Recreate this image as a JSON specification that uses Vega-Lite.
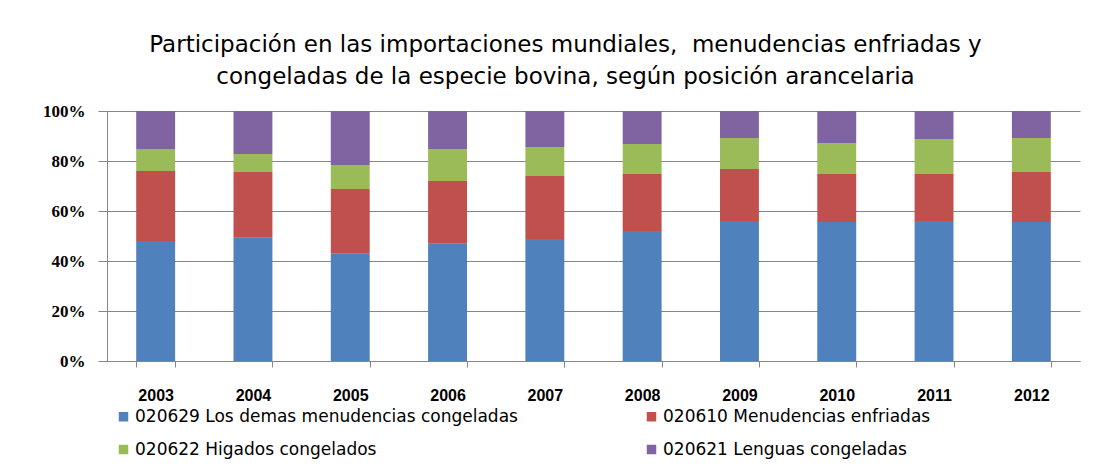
{
  "$schema": "https://vega.github.io/schema/vega-lite/v6.json",
  "width": 973,
  "height": 250,
  "autosize": "none",
  "padding": {"left": 107, "top": 111, "right": 14, "bottom": 110},
  "background": "white",
  "title": {
    "text": ["Participación en las importaciones mundiales,\u00a0 menudencias enfriadas y", "congeladas de la especie bovina, según posición arancelaria"],
    "font": "DejaVu Sans",
    "fontSize": 23,
    "fontWeight": "normal",
    "color": "#000000",
    "lineHeight": 32,
    "anchor": "middle",
    "frame": "group",
    "dx": -28,
    "offset": 13
  },
  "data": {
    "values": [
      {"year": "2003", "serie": "020629 Los demas menudencias congeladas", "k": 1, "value": 48.0},
      {"year": "2003", "serie": "020610 Menudencias enfriadas", "k": 2, "value": 28.0},
      {"year": "2003", "serie": "020622 Higados congelados", "k": 3, "value": 8.8},
      {"year": "2003", "serie": "020621 Lenguas congeladas", "k": 4, "value": 15.2},
      {"year": "2004", "serie": "020629 Los demas menudencias congeladas", "k": 1, "value": 49.3},
      {"year": "2004", "serie": "020610 Menudencias enfriadas", "k": 2, "value": 26.3},
      {"year": "2004", "serie": "020622 Higados congelados", "k": 3, "value": 7.2},
      {"year": "2004", "serie": "020621 Lenguas congeladas", "k": 4, "value": 17.2},
      {"year": "2005", "serie": "020629 Los demas menudencias congeladas", "k": 1, "value": 42.9},
      {"year": "2005", "serie": "020610 Menudencias enfriadas", "k": 2, "value": 25.9},
      {"year": "2005", "serie": "020622 Higados congelados", "k": 3, "value": 9.6},
      {"year": "2005", "serie": "020621 Lenguas congeladas", "k": 4, "value": 21.6},
      {"year": "2006", "serie": "020629 Los demas menudencias congeladas", "k": 1, "value": 46.9},
      {"year": "2006", "serie": "020610 Menudencias enfriadas", "k": 2, "value": 25.1},
      {"year": "2006", "serie": "020622 Higados congelados", "k": 3, "value": 12.8},
      {"year": "2006", "serie": "020621 Lenguas congeladas", "k": 4, "value": 15.2},
      {"year": "2007", "serie": "020629 Los demas menudencias congeladas", "k": 1, "value": 48.8},
      {"year": "2007", "serie": "020610 Menudencias enfriadas", "k": 2, "value": 25.2},
      {"year": "2007", "serie": "020622 Higados congelados", "k": 3, "value": 11.6},
      {"year": "2007", "serie": "020621 Lenguas congeladas", "k": 4, "value": 14.4},
      {"year": "2008", "serie": "020629 Los demas menudencias congeladas", "k": 1, "value": 52.0},
      {"year": "2008", "serie": "020610 Menudencias enfriadas", "k": 2, "value": 22.8},
      {"year": "2008", "serie": "020622 Higados congelados", "k": 3, "value": 12.0},
      {"year": "2008", "serie": "020621 Lenguas congeladas", "k": 4, "value": 13.2},
      {"year": "2009", "serie": "020629 Los demas menudencias congeladas", "k": 1, "value": 56.0},
      {"year": "2009", "serie": "020610 Menudencias enfriadas", "k": 2, "value": 20.8},
      {"year": "2009", "serie": "020622 Higados congelados", "k": 3, "value": 12.4},
      {"year": "2009", "serie": "020621 Lenguas congeladas", "k": 4, "value": 10.8},
      {"year": "2010", "serie": "020629 Los demas menudencias congeladas", "k": 1, "value": 55.6},
      {"year": "2010", "serie": "020610 Menudencias enfriadas", "k": 2, "value": 19.2},
      {"year": "2010", "serie": "020622 Higados congelados", "k": 3, "value": 12.4},
      {"year": "2010", "serie": "020621 Lenguas congeladas", "k": 4, "value": 12.8},
      {"year": "2011", "serie": "020629 Los demas menudencias congeladas", "k": 1, "value": 56.0},
      {"year": "2011", "serie": "020610 Menudencias enfriadas", "k": 2, "value": 18.8},
      {"year": "2011", "serie": "020622 Higados congelados", "k": 3, "value": 14.0},
      {"year": "2011", "serie": "020621 Lenguas congeladas", "k": 4, "value": 11.2},
      {"year": "2012", "serie": "020629 Los demas menudencias congeladas", "k": 1, "value": 55.6},
      {"year": "2012", "serie": "020610 Menudencias enfriadas", "k": 2, "value": 20.0},
      {"year": "2012", "serie": "020622 Higados congelados", "k": 3, "value": 13.6},
      {"year": "2012", "serie": "020621 Lenguas congeladas", "k": 4, "value": 10.8}
    ]
  },
  "mark": {"type": "bar"},
  "encoding": {
    "x": {
      "field": "year",
      "type": "ordinal",
      "scale": {"paddingInner": 0.6, "paddingOuter": 0.3},
      "axis": {
        "title": null,
        "labelAngle": 0,
        "tickBand": "extent",
        "domainColor": "#868686",
        "tickColor": "#868686",
        "tickSize": 6,
        "labelPadding": 20,
        "labelFont": "Liberation Sans",
        "labelFontSize": 16,
        "labelFontWeight": "bold",
        "labelColor": "#000000",
        "grid": false
      }
    },
    "y": {
      "field": "value",
      "type": "quantitative",
      "stack": "normalize",
      "scale": {"domain": [0, 1], "nice": false},
      "axis": {
        "title": null,
        "format": ".0%",
        "values": [0, 0.2, 0.4, 0.6, 0.8, 1],
        "grid": true,
        "gridColor": "#868686",
        "gridWidth": 1,
        "domainColor": "#868686",
        "tickColor": "#868686",
        "tickSize": 9,
        "labelPadding": 13,
        "labelFont": "Liberation Serif",
        "labelFontSize": 17,
        "labelFontWeight": "bold",
        "labelColor": "#000000"
      }
    },
    "color": {
      "field": "serie",
      "type": "nominal",
      "sort": ["020629 Los demas menudencias congeladas", "020610 Menudencias enfriadas", "020622 Higados congelados", "020621 Lenguas congeladas"],
      "scale": {
        "domain": ["020629 Los demas menudencias congeladas", "020610 Menudencias enfriadas", "020622 Higados congelados", "020621 Lenguas congeladas"],
        "range": ["#4F81BD", "#C0504D", "#9BBB59", "#8064A2"]
      },
      "legend": {
        "title": null,
        "orient": "none",
        "legendX": 8,
        "legendY": 297,
        "direction": "horizontal",
        "columns": 2,
        "columnPadding": 125,
        "rowPadding": 15,
        "symbolType": "square",
        "symbolSize": 90,
        "symbolStrokeWidth": 0,
        "symbolOpacity": 1,
        "labelFont": "DejaVu Sans",
        "labelFontSize": 17,
        "labelColor": "#000000",
        "labelOffset": 3,
        "labelLimit": 600
      }
    },
    "order": {"field": "k", "type": "quantitative", "sort": "ascending"}
  },
  "config": {
    "view": {"stroke": null}
  }
}
